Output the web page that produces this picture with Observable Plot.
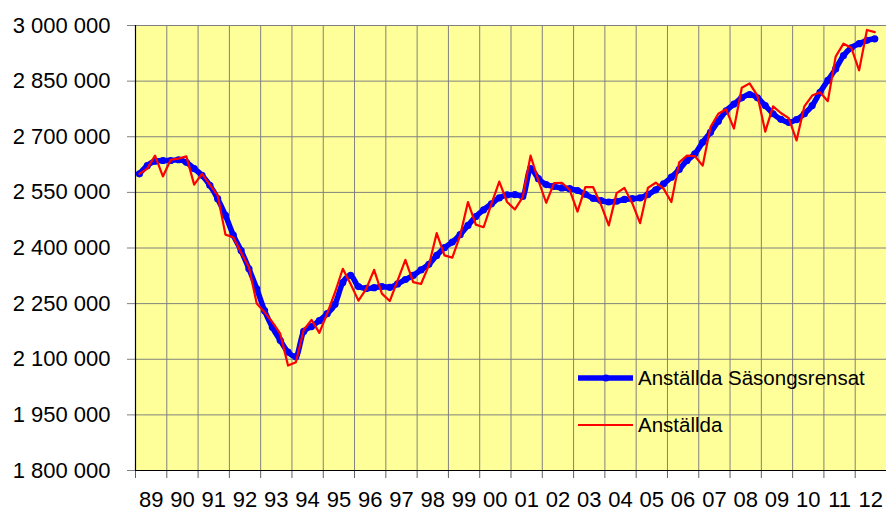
<!DOCTYPE html>
<html>
<head>
<meta charset="utf-8">
<script src="https://cdn.jsdelivr.net/npm/d3@7"></script>
<script src="https://cdn.jsdelivr.net/npm/@observablehq/plot@0.6"></script>
<style>
  html, body { margin: 0; padding: 0; background: #fff; }
  #wrap { position: relative; width: 886px; height: 513px; overflow: hidden;
          font-family: "Liberation Sans", Arial, sans-serif; color: #000; }
  .lg { position: absolute; left: 578px; height: 24px; display: flex; align-items: center;
        font-size: 20.5px; white-space: nowrap; }
  .lg svg { display: block; margin-right: 5px; }
</style>
</head>
<body>
<div id="wrap"></div>
<script>
// Year labels of the category axis (each year = 4 quarters)
const yearLabels = ["89","90","91","92","93","94","95","96","97","98","99","00",
                    "01","02","03","04","05","06","07","08","09","10","11","12"];

// Y axis tick values
const yTicks = [1800000, 1950000, 2100000, 2250000, 2400000, 2550000, 2700000, 2850000, 3000000];

// Anställda (quarterly, thousands), 1989 Q1 – 2012 Q3
const anstallda = [
  2600, 2614, 2649, 2593,  2638, 2641, 2647, 2571,  2600, 2571, 2542, 2436,
  2429, 2388, 2348, 2250,  2227, 2200, 2169, 2083,  2092, 2179, 2206, 2171,
  2223, 2280, 2344, 2303,  2258, 2290, 2341, 2277,  2257, 2312, 2368, 2308,
  2303, 2353, 2440, 2380,  2374, 2434, 2524, 2463,  2456, 2519, 2579, 2524,
  2504, 2537, 2649, 2582,  2522, 2575, 2576, 2557,  2498, 2564, 2564, 2517,
  2461, 2548, 2562, 2521,  2467, 2562, 2576, 2560,  2524, 2631, 2649, 2648,
  2622, 2726, 2762, 2774,  2722, 2832, 2844, 2811,  2714, 2782, 2764, 2750,
  2690, 2782, 2811, 2820,  2796, 2916, 2951, 2940,  2879, 2988, 2982
];

// Anställda Säsongsrensat (quarterly, thousands), 1989 Q1 – 2012 Q3
const sasongsrensat = [
  2600, 2622, 2634, 2636,  2636, 2638, 2631, 2614,  2596, 2569, 2533, 2488,
  2435, 2393, 2344, 2290,  2231, 2186, 2151, 2119,  2107, 2175, 2188, 2204,
  2223, 2248, 2307, 2326,  2296, 2291, 2293, 2296,  2294, 2303, 2315, 2326,
  2341, 2356, 2380, 2401,  2416, 2436, 2461, 2485,  2503, 2519, 2535, 2543,
  2544, 2539, 2614, 2587,  2571, 2566, 2562, 2560,  2555, 2545, 2534, 2528,
  2524, 2526, 2531, 2533,  2535, 2544, 2557, 2573,  2591, 2612, 2636, 2654,
  2685, 2712, 2742, 2770,  2788, 2805, 2814, 2805,  2784, 2762, 2747, 2739,
  2746, 2762, 2784, 2820,  2852, 2883, 2919, 2940,  2951, 2960, 2964
];

const toRows = arr => arr.map((v, i) => ({q: i + 0.5, v: v * 1000}));
const blue = toRows(sasongsrensat);
const red = toRows(anstallda);

const nQ = yearLabels.length * 4;
const boundaries = d3.range(0, nQ + 1, 4);
const centers = yearLabels.map((_, k) => k * 4 + 2);
const fmt = d => d3.format(",")(d).replace(/,/g, " ");

const chart = Plot.plot({
  width: 886,
  height: 513,
  marginLeft: 135,
  marginRight: 0,
  marginTop: 25,
  marginBottom: 43,
  style: {fontFamily: '"Liberation Sans", Arial, sans-serif', fontSize: "22px",
          color: "#000", background: "transparent", overflow: "visible"},
  x: {domain: [0, nQ]},
  y: {domain: [1800000, 3000000]},
  marks: [
    Plot.frame({fill: "#FFFF99", stroke: null}),
    Plot.gridY(yTicks, {stroke: "#808080", strokeOpacity: 1}),
    Plot.gridX(boundaries, {stroke: "#808080", strokeOpacity: 1}),
    Plot.axisY(yTicks, {tickSize: 8, tickPadding: 17, stroke: "#808080", fill: "#000",
                        tickFormat: fmt, fontSize: 22, label: null}),
    Plot.axisX(boundaries, {tickSize: 8, stroke: "#606060", tickFormat: () => "", label: null}),
    Plot.axisX(centers, {tickSize: 0, tickPadding: 21, fill: "#000", fontSize: 22,
                         tickFormat: d => yearLabels[(d - 2) / 4], label: null}),
    Plot.ruleX([0], {stroke: "#000", strokeWidth: 1.2}),
    Plot.ruleY([1800000], {stroke: "#000", strokeWidth: 1.2}),
    Plot.line(blue, {x: "q", y: "v", stroke: "#0000FF", strokeWidth: 5.5, curve: "monotone-x"}),
    Plot.dot(blue, {x: "q", y: "v", r: 3.6, fill: "#0000FF", stroke: null}),
    Plot.line(red, {x: "q", y: "v", stroke: "#FF0000", strokeWidth: 2.2})
  ]
});

const wrap = document.getElementById("wrap");
wrap.appendChild(chart);

// Legend inside the plot area
const lg1 = document.createElement("div");
lg1.className = "lg";
lg1.style.top = "366px";
lg1.innerHTML = '<svg width="55" height="24"><line x1="0" y1="12" x2="55" y2="12" stroke="#0000FF" stroke-width="5.5" stroke-linecap="round"/><circle cx="28" cy="12" r="3.6" fill="#0000FF"/></svg><span>Anställda Säsongsrensat</span>';
wrap.appendChild(lg1);

const lg2 = document.createElement("div");
lg2.className = "lg";
lg2.style.top = "413px";
lg2.innerHTML = '<svg width="55" height="24"><line x1="0" y1="12" x2="55" y2="12" stroke="#FF0000" stroke-width="2.2"/></svg><span>Anställda</span>';
wrap.appendChild(lg2);
</script>
</body>
</html>
